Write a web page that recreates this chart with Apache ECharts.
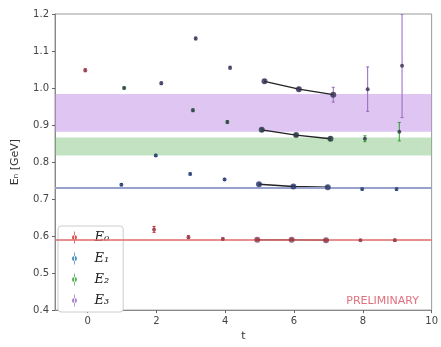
<!DOCTYPE html>
<html>
<head>
<meta charset="utf-8">
<script src="https://cdn.jsdelivr.net/npm/echarts@6/dist/echarts.min.js"></script>
<style>
html,body{margin:0;padding:0;background:#fff;}
#chart{width:441px;height:347px;}
</style>
</head>
<body>
<div id="chart"></div>
<script>
// 各能级数据 t, E, 误差
var names = ['E₀', 'E₁', 'E₂', 'E₃'];
var colors = ['#d62728', '#1f77b4', '#2ca02c', '#9467bd'];
var dotColors = ['#8c3a4e', '#2c3868', '#2e3446', '#34304f'];
var shift = [-0.07, -0.02, 0.06, 0.14];

var e0T = [0, 2, 3, 4, 5, 6, 7, 8, 9];
var e0V = [1.048, 0.618, 0.597, 0.592, 0.590, 0.590, 0.589, 0.589, 0.589];
var e0Err = [0.004, 0.008, 0.004, 0.003, 0.002, 0.002, 0.002, 0.002, 0.003];

var e1T = [1, 2, 3, 4, 5, 6, 7, 8, 9];
var e1V = [0.739, 0.818, 0.768, 0.753, 0.740, 0.734, 0.732, 0.727, 0.727];
var e1Err = [0.003, 0.003, 0.003, 0.003, 0.003, 0.003, 0.003, 0.003, 0.004];

var e2T = [1, 3, 4, 5, 6, 7, 8, 9];
var e2V = [1.000, 0.940, 0.908, 0.887, 0.873, 0.863, 0.863, 0.882];
var e2Err = [0.003, 0.004, 0.004, 0.004, 0.004, 0.005, 0.008, 0.025];

var e3T = [2, 3, 4, 5, 6, 7, 8, 9];
var e3V = [1.013, 1.134, 1.055, 1.018, 0.997, 0.982, 0.997, 1.060];
var e3Err = [0.004, 0.004, 0.004, 0.004, 0.005, 0.020, 0.060, 0.140];

var fitT = [5, 6, 7];
// 拟合带
var bandE3 = [0.882, 0.984];
var bandE2 = [0.818, 0.866];
var lineE1 = 0.726;
var lineE0 = 0.588;

var xTicks = [0, 2, 4, 6, 8, 10];

var allT = [e0T, e1T, e2T, e3T];
var allV = [e0V, e1V, e2V, e3V];
var allErr = [e0Err, e1Err, e2Err, e3Err];

function errRender(params, api) {
    var x = api.value(0), y = api.value(1), e = api.value(2);
    var top = api.coord([x, y + e]);
    var bot = api.coord([x, y - e]);
    var st = {stroke: api.visual('color'), lineWidth: 1};
    return {
        type: 'group',
        children: [
            {type: 'line', shape: {x1: top[0], y1: top[1], x2: bot[0], y2: bot[1]}, style: st},
            {type: 'line', shape: {x1: top[0] - 1.5, y1: top[1], x2: top[0] + 1.5, y2: top[1]}, style: st},
            {type: 'line', shape: {x1: bot[0] - 1.5, y1: bot[1], x2: bot[0] + 1.5, y2: bot[1]}, style: st}
        ]
    };
}

var series = [];
for (var i = 0; i < 4; i++) {
    var pts = [], fit = [];
    for (var j = 0; j < allT[i].length; j++) {
        var tx = allT[i][j] + shift[i];
        pts.push([tx, allV[i][j], allErr[i][j]]);
        if (fitT.indexOf(allT[i][j]) >= 0) fit.push([tx, allV[i][j]]);
    }
    series.push({
        name: names[i] + 'err',
        type: 'custom',
        renderItem: errRender,
        clip: true,
        itemStyle: {color: colors[i]},
        encode: {x: 0, y: 1},
        data: pts,
        z: 3
    });
    series.push({
        name: names[i],
        type: 'scatter',
        symbolSize: function (v) { return fitT.indexOf(Math.round(v[0])) >= 0 ? 6 : 4; },
        itemStyle: {color: dotColors[i]},
        data: pts,
        z: 5
    });
    series.push({
        name: names[i] + 'fit',
        type: 'line',
        symbol: 'none',
        lineStyle: {color: '#222', width: 1.3},
        data: fit,
        z: 4
    });
}

// 背景带与水平线
series.push({
    type: 'line',
    data: [],
    silent: true,
    markArea: {
        silent: true,
        data: [
            [{yAxis: bandE3[0], itemStyle: {color: 'rgba(190,140,230,0.5)'}}, {yAxis: bandE3[1]}],
            [{yAxis: bandE2[0], itemStyle: {color: 'rgba(120,190,120,0.45)'}}, {yAxis: bandE2[1]}]
        ]
    },
    markLine: {
        silent: true,
        symbol: 'none',
        label: {show: false},
        data: [
            {yAxis: lineE1, lineStyle: {color: '#97a3cc', width: 2, type: 'solid'}},
            {yAxis: lineE0, lineStyle: {color: '#e06b6b', width: 1.5, type: 'solid'}}
        ]
    },
    z: 1
});

var chart = echarts.init(document.getElementById('chart'));
chart.setOption({
    animation: false,
    grid: {
        left: 55, right: 4, top: 14, bottom: 30,
        show: true, borderColor: '#999', borderWidth: 1
    },
    xAxis: {
        type: 'value',
        min: -0.95, max: 10,
        name: 't',
        nameLocation: 'middle',
        nameGap: 19,
        nameTextStyle: {color: '#333', fontSize: 11, fontFamily: 'DejaVu Sans'},
        axisLine: {onZero: false, lineStyle: {color: '#888'}},
        axisTick: {customValues: xTicks, length: 3, lineStyle: {color: '#666'}},
        axisLabel: {customValues: xTicks, color: '#444', fontSize: 10, fontFamily: 'DejaVu Sans', margin: 6},
        splitLine: {show: false}
    },
    yAxis: {
        type: 'value',
        min: 0.4, max: 1.2, interval: 0.1,
        name: 'Eₙ [GeV]',
        nameLocation: 'middle',
        nameGap: 34,
        nameRotate: 90,
        nameTextStyle: {color: '#333', fontSize: 11, fontFamily: 'DejaVu Sans'},
        axisLine: {show: true, onZero: false, lineStyle: {color: '#888'}},
        axisTick: {show: true, length: 3, lineStyle: {color: '#666'}},
        axisLabel: {color: '#444', fontSize: 10, fontFamily: 'DejaVu Sans', margin: 6,
            formatter: function (v) { return v.toFixed(1); }},
        splitLine: {show: false}
    },
    legend: {
        orient: 'vertical',
        left: 58, top: 226,
        itemGap: 8,
        itemWidth: 6, itemHeight: 12,
        padding: [5, 14, 5, 14],
        backgroundColor: '#fff',
        borderColor: '#ccc',
        borderWidth: 1,
        borderRadius: 3,
        icon: 'path://M2.6,0h0.8v12h-0.8z M3,3.5a2.5,2.5 0 1,0 0.001,0z',
        textStyle: {fontSize: 13, fontStyle: 'italic', fontFamily: 'DejaVu Serif', color: '#222', padding: [0, 0, 0, 12]},
        data: names.map(function (n, k) { return {name: n, itemStyle: {color: colors[k]}}; })
    },
    graphic: [{
        type: 'text',
        right: 22, top: 296,
        style: {text: 'PRELIMINARY', fill: '#e0707e', font: '11px "DejaVu Sans"'}
    }],
    series: series
});
</script>
</body>
</html>
